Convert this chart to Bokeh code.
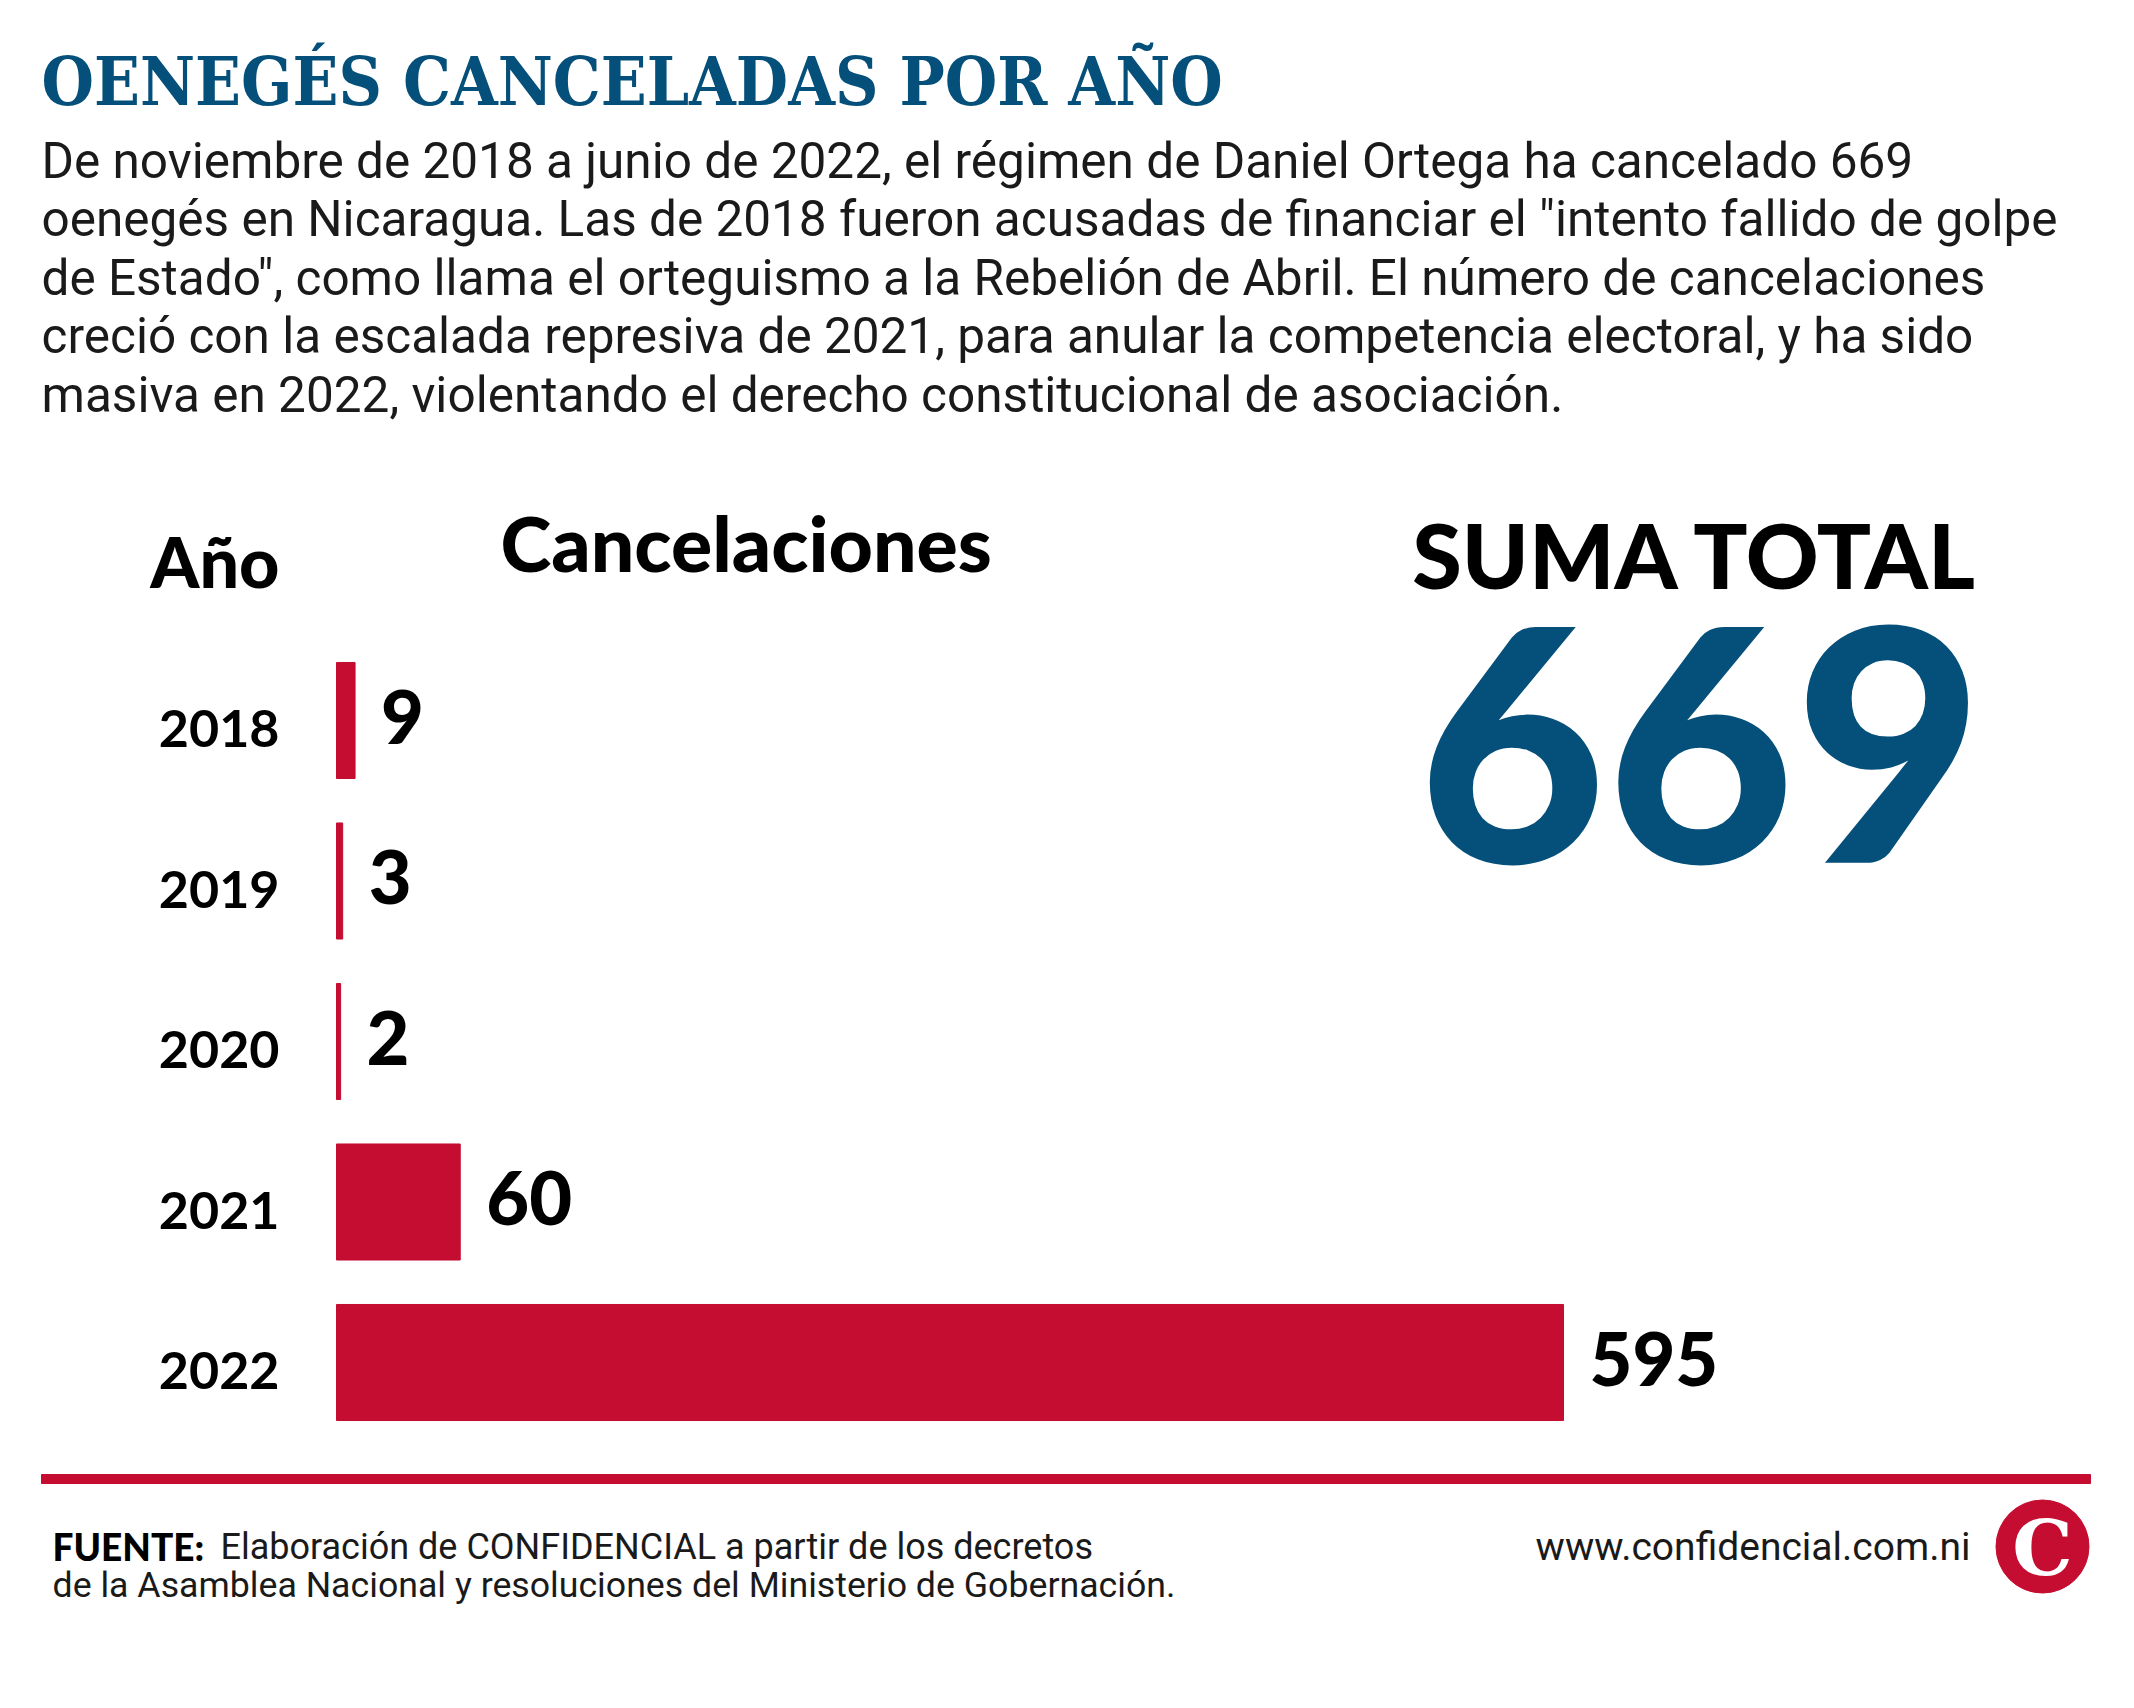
from bokeh.plotting import figure
from bokeh.models import Range1d
from bokeh.embed import file_html
from bokeh.resources import INLINE
from bokeh.core.properties import value

# ---------------- data ----------------
years = ["2018", "2019", "2020", "2021", "2022"]
cancelaciones = [9, 3, 2, 60, 595]
total = sum(cancelaciones)

title_text = "OENEGÉS CANCELADAS POR AÑO"
body_lines = [
    "De noviembre de 2018 a junio de 2022, el régimen de Daniel Ortega ha cancelado 669",
    "oenegés en Nicaragua. Las de 2018 fueron acusadas de financiar el \"intento fallido de golpe",
    "de Estado\", como llama el orteguismo a la Rebelión de Abril. El número de cancelaciones",
    "creció con la escalada represiva de 2021, para anular la competencia electoral, y ha sido",
    "masiva en 2022, violentando el derecho constitucional de asociación.",
]
header_year = "Año"
header_value = "Cancelaciones"
total_label = "SUMA TOTAL"
source_bold = "FUENTE:"
source_line1 = "Elaboración de CONFIDENCIAL a partir de los decretos"
source_line2 = "de la Asamblea Nacional y resoluciones del Ministerio de Gobernación."
site = "www.confidencial.com.ni"
logo_letter = "C"

# ---------------- style ----------------
RED = "#c50d31"
BLUE = "#05507a"
INK = "#1a1a1a"
HEAVY = value("Lato Black")

W, H = 2118, 1692

p = figure(width=W, height=H, x_range=Range1d(0, W), y_range=Range1d(H, 0),
           output_backend="svg", toolbar_location=None, min_border=0,
           x_axis_location=None, y_axis_location=None,
           outline_line_color=None, background_fill_color="white",
           border_fill_color="white")
p.grid.visible = False

# bar scales (layout: where 0 and the maximum fall, in page pixels)
bar_zero_px = 336
bar_max_px = 1563
ppu = (bar_max_px - bar_zero_px) / max(cancelaciones)
p.extra_x_ranges = {"count": Range1d(-bar_zero_px / ppu, (W - bar_zero_px) / ppu)}
first_center, step = 720, 160.5
p.extra_y_ranges = {"rank": Range1d((H - first_center) / step, -first_center / step)}

idx = list(range(len(years)))

p.hbar(y=idx, left=0, right=cancelaciones, height=0.723, color=RED,
       x_range_name="count", y_range_name="rank")

p.text(x=cancelaciones, y=idx, text=[str(v) for v in cancelaciones],
       x_range_name="count", y_range_name="rank", x_offset=26, y_offset=-4,
       text_baseline="middle", text_align="left", text_font=HEAVY,
       text_font_size="74px", text_color="black")

p.text(x=[279] * len(years), y=idx, text=years, y_range_name="rank",
       y_offset=8, text_baseline="middle", text_align="right",
       text_font=value("Lato"), text_font_style="bold",
       text_font_size="52px", text_color="black")


def txt(x, y, s, size, font, color="black", style="normal", align="left"):
    p.text(x=[x], y=[y], text=[s], text_font=value(font), text_font_size=f"{size}px",
           text_font_style=style, text_color=color, text_align=align,
           text_baseline="middle")


# title and intro
txt(41, 81, title_text, 67, "DejaVu Serif Condensed", color=BLUE, style="bold")
for i, line in enumerate(body_lines):
    txt(41, 160 + 58.5 * i, line, 49.5, "Roboto", color=INK)

# headers
txt(279, 560, header_year, 70, "Lato Black", align="right")
txt(500, 541, header_value, 77, "Lato Black")

# total
txt(1696, 553, total_label, 90, "Lato Black", align="center")
txt(1700, 743, str(total), 325, "Lato Black", color=BLUE, align="center")

# footer rule
p.quad(left=[41], right=[2090], top=[1474], bottom=[1483], color=RED)

# source
txt(52, 1546, source_bold, 37, "Lato Black")
txt(220, 1546, source_line1, 36, "Roboto", color=INK)
txt(52, 1584, source_line2, 35.7, "Roboto", color=INK)
txt(1970, 1546, site, 39, "Roboto", color=INK, align="right")

# logo
p.scatter(x=[2042], y=[1546], marker="circle", size=93, color=RED)
txt(2042, 1548, logo_letter, 76, "DejaVu Serif", color="white", style="bold",
    align="center")

open("out.html", "w").write(file_html(p, INLINE))
